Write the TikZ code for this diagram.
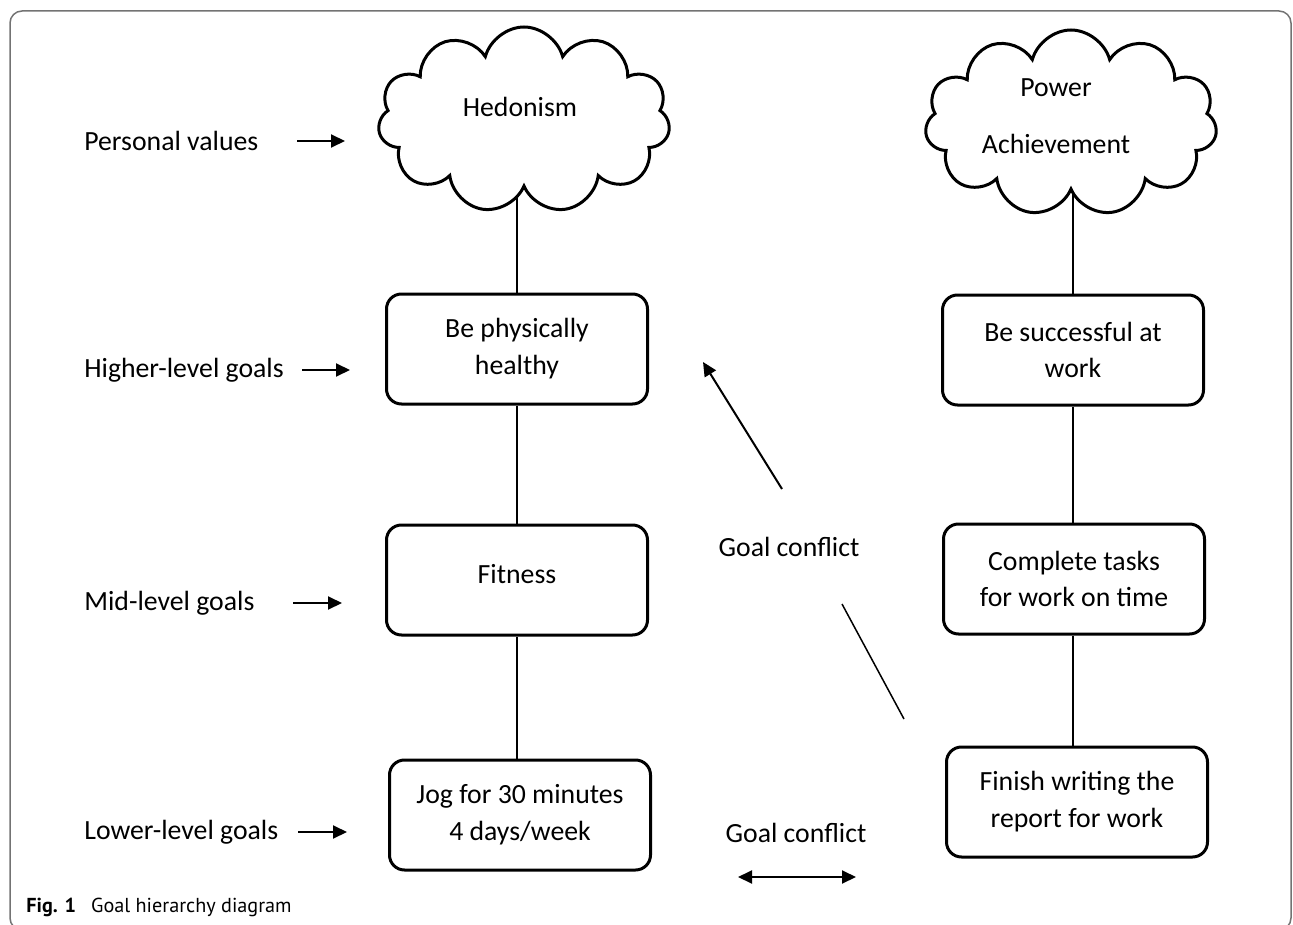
\documentclass[tikz,border=0pt]{standalone}
\usepackage{fontspec}
\setmainfont{Carlito}
\newfontfamily\capfont{PT Sans}
\usetikzlibrary{positioning, arrows.meta, shapes.symbols, backgrounds}

\begin{document}
\begin{tikzpicture}[
  x=0.2mm, y=-0.2mm,
  font=\fontsize{15.8}{21}\selectfont,
  goal/.style={draw, line width=0.6mm, rounded corners=3mm,
    minimum width=52.2mm, minimum height=22mm, align=center, inner sep=0pt},
  valuecloud/.style={draw, fill=white, cloud, cloud puffs=11, cloud ignores aspect,
    line width=0.6mm, minimum width=58.4mm, minimum height=37.2mm},
  link/.style={line width=0.3mm},
  pointer/.style={-{Triangle[length=2.8mm, width=2.6mm]}, line width=0.4mm},
  twoway/.style={{Triangle[length=2.8mm, width=2.6mm]}-{Triangle[length=2.8mm, width=2.6mm]}, line width=0.4mm},
  level/.style={anchor=west, inner sep=0pt},
  frame/.style={draw=black!55, line width=0.3mm, rounded corners=2.4mm},
]
\useasboundingbox (0,0) rectangle (1293,925);

% outer frame
\draw[frame] (10,11) rectangle (1291,930);

% === level labels (left) ===
\node[level] (pvl) at (84,141) {Personal values};
\node[level] (hgl) at (84,370) {Higher-level goals};
\node[level] (mgl) at (84,603) {Mid-level goals};
\node[level] (lgl) at (84,832) {Lower-level goals};

\draw[pointer] (pvl.east -| 297,0) -- (pvl.east -| 345,0);
\draw[pointer] (hgl.east -| 302,0) -- (hgl.east -| 350,0);
\draw[pointer] (mgl.east -| 293,0) -- (mgl.east -| 342,0);
\draw[pointer] (lgl.east -| 298,0) -- (lgl.east -| 347,0);

% === health column ===
\node[valuecloud] (hed) at (524,120) {};
\node (hedtxt) at (520,107) {Hedonism};
\node[goal] (health) at (517,349) {Be physically\\healthy};
\node[goal] (fit) at (517,580) {\raisebox{2.6mm}{Fitness}};
\node[goal] (jog) at (520,815) {Jog for 30 minutes\\4 days/week};

\begin{scope}[on background layer]
  \draw[link] (health.north) -- (health.north |- hed.center);
\end{scope}
\draw[link] (health) -- (fit);
\draw[link] (fit.south) -- (fit.south |- jog.north);

% === work column ===
\node[valuecloud] (pow) at (1071,123) {};
\node[align=center] (powtxt) at (1056,116) {Power\\[4mm]Achievement};
\node[goal] (succ) at (1073,350) {Be successful at\\work};
\node[goal] (tasks) at (1074,579) {Complete tasks\\for work on time};
\node[goal] (report) at (1077,802) {Finish writing the\\report for work};

\begin{scope}[on background layer]
  \draw[link] (succ.north) -- (succ.north |- pow.center);
\end{scope}
\draw[link] (succ.south) -- (succ.south |- tasks.north);
\draw[link] (tasks.south -| succ.south) -- (report.north -| succ.south);

% === goal conflicts ===
\node (gcm) at (789,547) {Goal conflict};
\coordinate (gc1) at (904,719);
\coordinate (gc2) at (842,604);
\coordinate (gc3) at (782,489);
\coordinate (gc4) at (703,362);
\draw[link] (gc1) -- (gc2);
\draw[pointer] (gc3) -- (gc4);

\node (gcb) at (796,833) {Goal conflict};
\coordinate (gcl) at (738,877);
\coordinate (gcr) at (856,877);
\draw[twoway] (gcl) -- (gcr);

% caption
\node[anchor=base west, inner sep=0pt, font=\capfont\fontsize{11.5}{13}\selectfont] (cap) at (26,912)
  {\textbf{Fig. 1}\hspace{3mm}Goal hierarchy diagram};

\end{tikzpicture}
\end{document}
